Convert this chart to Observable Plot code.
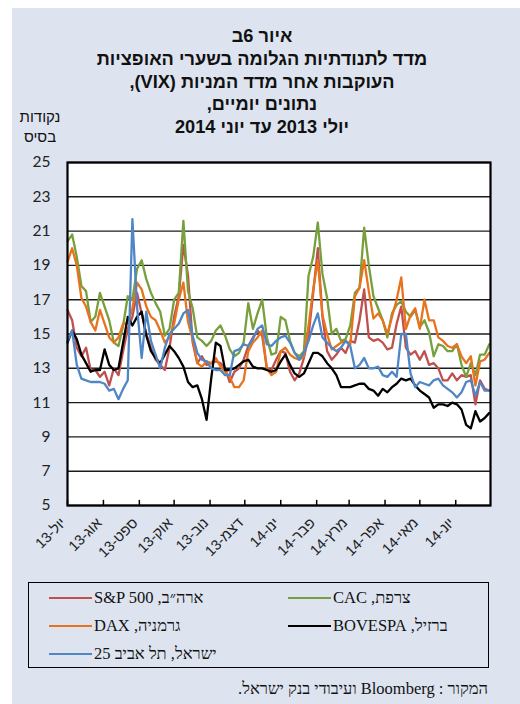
<!DOCTYPE html>
<html><head><meta charset="utf-8">
<script src="https://cdn.jsdelivr.net/npm/d3@7"></script>
<script src="https://cdn.jsdelivr.net/npm/@observablehq/plot@0.6"></script>
<style>
body{margin:0;background:#fff;width:520px;height:704px;overflow:hidden;position:relative;font-family:"Liberation Sans",sans-serif;color:#111}
#panel{position:absolute;left:12px;top:8px;width:508px;height:696px;background:#dde4f0}
#title{position:absolute;left:0;width:524px;top:25px;text-align:center;font-weight:bold;font-size:18.2px;line-height:22.8px;direction:rtl}
#unit{position:absolute;left:12px;width:56px;top:107px;text-align:center;font-size:15px;line-height:20px;direction:rtl}
#chart{position:absolute;left:0;top:140px}
#legend{position:absolute;left:28px;top:582px;width:459px;height:84px;border:1.5px solid #000}
.item{position:absolute;height:20px;display:flex;align-items:center;font-family:"Liberation Serif",serif;font-size:16.5px;white-space:nowrap}
.sw{width:43px;height:0;border-top:2.5px solid;margin-right:2px}
#source{position:absolute;right:32px;top:679px;direction:rtl;font-family:"Liberation Serif",serif;font-size:16.5px;line-height:20px}
</style></head>
<body>
<div id="panel"></div>
<div id="title">איור 6ב<br>מדד לתנודתיות הגלומה בשערי האופציות<br>העוקבות אחר מדד המניות (VIX),<br>נתונים יומיים,<br>יולי 2013 עד יוני 2014</div>
<div id="unit">נקודות<br>בסיס</div>
<div id="chart"></div>
<div id="legend"></div>
<div id="source">המקור : Bloomberg ועיבודי בנק ישראל.</div>
<script>
// ---- data ----
const sampleDates = ["2013-07-01","2013-07-05","2013-07-09","2013-07-13","2013-07-17","2013-07-21","2013-07-25","2013-07-29","2013-08-02","2013-08-06","2013-08-10","2013-08-14","2013-08-18","2013-08-22","2013-08-26","2013-08-30","2013-09-03","2013-09-07","2013-09-11","2013-09-15","2013-09-19","2013-09-23","2013-09-27",
"2013-10-01","2013-10-05","2013-10-09","2013-10-13","2013-10-17","2013-10-21","2013-10-25","2013-10-29","2013-11-02","2013-11-06","2013-11-10","2013-11-14","2013-11-18","2013-11-22","2013-11-26","2013-11-30","2013-12-04","2013-12-08","2013-12-12","2013-12-16","2013-12-20","2013-12-24","2013-12-28",
"2014-01-01","2014-01-05","2014-01-09","2014-01-13","2014-01-17","2014-01-21","2014-01-25","2014-01-29","2014-02-02","2014-02-06","2014-02-10","2014-02-14","2014-02-18","2014-02-22","2014-02-26","2014-03-02","2014-03-06","2014-03-10","2014-03-14","2014-03-18","2014-03-22","2014-03-26","2014-03-30",
"2014-04-03","2014-04-07","2014-04-11","2014-04-15","2014-04-19","2014-04-23","2014-04-27","2014-05-01","2014-05-05","2014-05-09","2014-05-13","2014-05-17","2014-05-21","2014-05-25","2014-05-29","2014-06-02","2014-06-06","2014-06-10","2014-06-14","2014-06-18","2014-06-22","2014-06-26","2014-06-30"];

const sp500 = [16.4,15.8,14.2,13.7,14.2,12.9,12.9,12.5,12.8,12.0,13.0,12.6,14.0,15.3,16.0,17.4,16.2,15.0,14.2,13.5,13.2,12.9,14.2,
16.0,17.2,20.2,18.4,14.5,13.3,13.7,13.2,13.3,13.4,13.3,13.0,12.2,12.8,13.0,13.5,14.3,14.8,15.2,14.9,13.0,12.9,13.5,
14.0,13.9,12.8,12.3,12.7,13.6,14.9,17.4,20.0,16.0,14.0,13.5,13.8,14.2,13.9,14.6,14.5,15.8,17.6,14.8,14.6,14.7,14.5,
14.1,14.2,15.6,16.6,14.2,13.8,14.0,13.5,14.0,13.2,13.3,13.0,12.3,12.3,12.7,12.3,12.6,12.5,12.6,10.9,12.3,11.8,11.7];

const cac = [20.4,20.8,19.5,17.8,17.5,15.7,16.0,17.4,16.6,15.8,14.5,14.3,15.5,17.2,17.0,18.8,19.3,18.2,17.4,16.8,16.3,14.9,15.3,
17.0,17.4,21.6,17.5,16.5,14.8,14.6,14.3,14.6,15.2,15.5,14.9,14.1,13.7,13.9,14.5,16.8,15.3,16.2,17.0,14.8,13.8,13.9,
16.0,15.8,14.6,13.9,13.7,14.0,18.4,19.5,21.5,18.5,17.1,15.0,15.3,14.6,14.7,15.5,17.4,17.7,21.2,19.0,17.2,16.5,15.8,
14.8,16.2,16.7,16.9,16.3,16.0,16.4,15.4,15.8,15.1,13.7,14.4,14.3,14.0,14.0,14.4,13.2,12.5,13.3,12.6,13.8,13.8,14.4];

const dax = [19.2,20.0,19.0,17.1,16.6,15.7,15.2,16.4,15.6,14.8,14.5,14.8,15.6,15.6,16.5,18.0,17.6,16.6,16.0,15.8,15.2,14.5,14.8,
15.6,17.0,18.0,15.7,14.7,13.3,13.1,13.4,13.3,13.6,13.1,12.8,12.5,11.9,11.9,12.3,14.0,14.5,14.8,15.2,13.0,12.6,12.8,
14.0,14.2,13.8,13.6,13.5,13.7,15.5,17.6,19.3,16.1,15.0,14.1,14.3,14.5,14.6,14.4,17.2,17.7,19.3,17.5,15.9,16.2,15.8,
15.0,16.0,17.0,18.3,15.3,16.1,16.5,15.3,17.0,15.8,15.8,14.8,14.6,14.3,14.2,14.4,13.7,13.3,13.7,12.0,13.4,13.5,13.9];

const bovespa = [14.5,15.2,14.7,13.8,13.3,12.8,12.9,12.9,14.1,13.2,12.9,13.0,14.5,16.0,15.5,16.0,16.3,14.9,14.0,13.6,13.3,13.8,14.3,
14.0,13.6,13.1,12.2,11.9,12.0,11.2,10.0,12.4,14.5,14.3,12.9,12.9,13.0,13.2,13.4,13.5,13.1,13.0,13.0,12.9,12.8,12.9,
13.4,13.8,13.2,12.7,12.5,12.7,13.3,13.9,13.9,13.7,13.3,13.0,12.6,11.9,11.9,11.9,12.0,12.1,12.1,11.8,11.7,11.4,11.8,
11.6,11.9,12.1,12.4,12.3,12.4,12.0,11.7,11.5,11.3,10.7,10.9,10.9,10.8,11.0,10.9,10.6,9.7,9.5,10.5,9.9,10.1,10.4];

const ta25 = [14.6,15.2,13.2,12.4,12.3,12.2,12.2,12.2,12.1,11.7,11.8,11.2,11.8,12.3,21.7,16.6,13.6,16.3,14.6,13.8,13.0,14.2,15.0,
15.3,15.6,16.2,16.4,14.9,13.9,13.5,13.4,13.0,12.9,12.9,12.6,12.6,14.0,14.1,14.4,14.3,14.7,15.3,15.5,14.4,14.3,14.6,
14.8,14.9,14.5,13.9,13.5,13.9,14.6,15.5,16.2,14.8,14.5,14.2,14.0,14.2,14.6,14.3,13.0,13.2,13.6,13.0,13.0,13.1,12.6,
12.5,12.8,12.5,15.0,15.0,12.7,11.9,12.2,12.1,12.0,12.3,12.4,12.0,11.8,11.6,11.3,11.6,12.2,12.3,11.4,12.2,11.7,11.7];

const seriesNames = ["ארה״ב, S&P 500", "צרפת, CAC", "גרמניה, DAX", "ברזיל, BOVESPA", "ישראל, תל אביב 25"];
const seriesColors = ["#c0504d", "#77a03c", "#e8731e", "#000000", "#4f86c6"];
const seriesValues = [sp500, cac, dax, bovespa, ta25];

const monthStarts = ["2013-07-01","2013-08-01","2013-09-01","2013-10-01","2013-11-01","2013-12-01","2014-01-01","2014-02-01","2014-03-01","2014-04-01","2014-05-01","2014-06-01"];
const monthLabels = ["יול-13","אוג-13","ספט-13","אוק-13","נוב-13","דצמ-13","ינו-14","פבר-14","מרץ-14","אפר-14","מאי-14","יונ-14"];
const yTicks = [5,7,9,11,13,15,17,19,21,23,25];
const xDomain = ["2013-07-01","2014-07-01"];
const yDomain = [5,25];

// ---- table ----
const parse = d3.utcParse("%Y-%m-%d");
const rows = [];
seriesValues.forEach((vals, s) => vals.forEach((v, i) => rows.push({date: parse(sampleDates[i]), value: v, series: seriesNames[s]})));
const ticks = monthStarts.map(parse);

const chart = Plot.plot({
  width: 520, height: 440,
  marginLeft: 67, marginRight: 30, marginTop: 22, marginBottom: 75,
  style: {background: "transparent", overflow: "visible"},
  x: {type: "utc", domain: xDomain.map(parse), axis: null},
  y: {domain: yDomain, axis: null},
  color: {domain: seriesNames, range: seriesColors},
  marks: [
    Plot.frame({fill: "#ffffff", stroke: "none"}),
    Plot.ruleY(yTicks, {stroke: "#1c1c1c", strokeWidth: 1.4}),
    Plot.line(rows, {x: "date", y: "value", z: "series", stroke: "series", strokeWidth: 2.3, strokeLinejoin: "round", curve: "linear"}),
    Plot.frame({stroke: "#000", strokeWidth: 2.2}),
    Plot.ruleX(ticks, {x: d => d, y1: yDomain[0], y2: yDomain[0] + 0.3, stroke: "#000", strokeWidth: 1.5}),
    Plot.axisY({ticks: yTicks, label: null, tickSize: 0, tickPadding: 17, fontSize: 15.5, fontFamily: "Lato, 'Liberation Sans', sans-serif", fill: "#222"}),
    Plot.text(ticks, {x: d => d, text: (d, i) => monthLabels[i], frameAnchor: "bottom", rotate: -45, textAnchor: "end", lineAnchor: "middle", dx: -4, dy: 15, fontSize: 14.5, fontFamily: "'Liberation Sans', sans-serif", fill: "#222"})
  ]
});
document.getElementById("chart").appendChild(chart);

// ---- legend ----
const legend = document.getElementById("legend");
const legendPos = [[20,5],[259,5],[20,33],[259,33],[20,61]];
seriesNames.forEach((name, i) => {
  const it = document.createElement("div");
  it.className = "item";
  it.style.left = legendPos[i][0] + "px";
  it.style.top = legendPos[i][1] + "px";
  const sw = document.createElement("div");
  sw.className = "sw";
  sw.style.borderTopColor = seriesColors[i];
  const tx = document.createElement("span");
  tx.dir = "rtl";
  tx.textContent = name;
  it.appendChild(sw); it.appendChild(tx);
  legend.appendChild(it);
});
</script>
</body></html>
